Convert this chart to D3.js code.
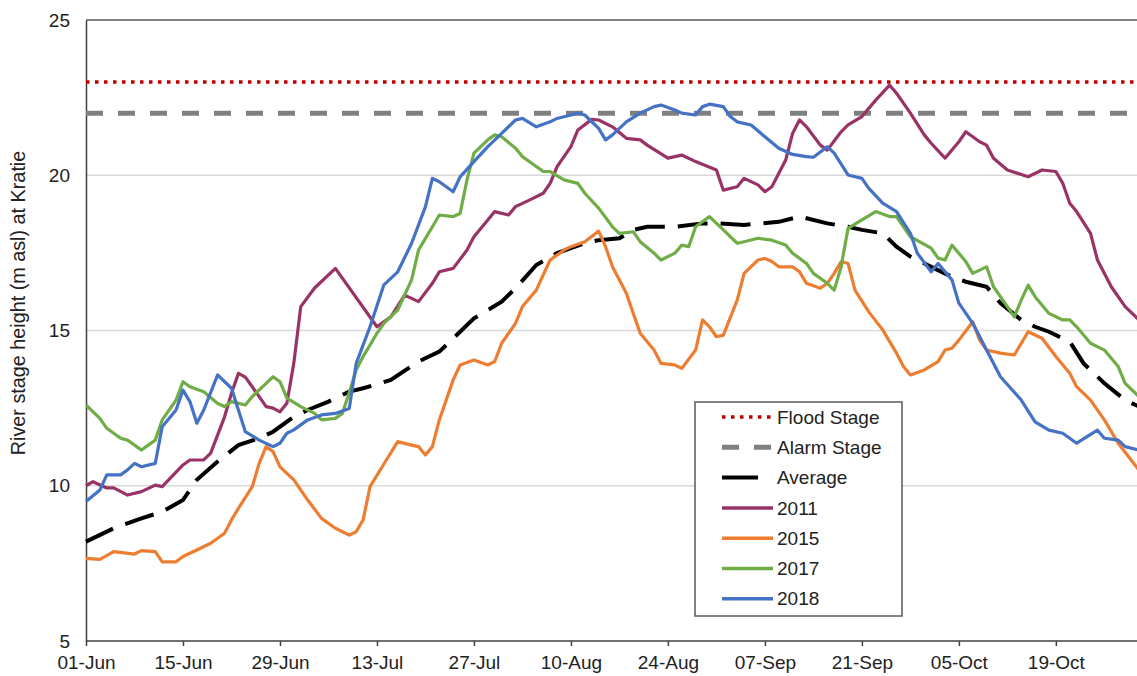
<!DOCTYPE html>
<html>
<head>
<meta charset="utf-8">
<script src="https://cdn.jsdelivr.net/npm/d3@7/dist/d3.min.js"></script>
<style>
  html, body { margin: 0; padding: 0; background: #fff; }
  svg { display: block; font-family: "Liberation Sans", Arial, sans-serif; }
</style>
</head>
<body>
<svg id="chart" width="1137" height="676"></svg>
<script>
// ---- Data (day = days since 01-Jun; values in m asl) ----
const tickDays = [0, 14, 28, 42, 56, 70, 84, 98, 112, 126, 140];
const tickLabels = ["01-Jun", "15-Jun", "29-Jun", "13-Jul", "27-Jul", "10-Aug", "24-Aug", "07-Sep", "21-Sep", "05-Oct", "19-Oct"];
const yTicks = [5, 10, 15, 20, 25];

const floodStage = 23;
const alarmStage = 22;

const avgDays = [0,4,8,11,14,16,19,22,25,27,30,32,35,38,40,42,44,48,51,54,56,60,62,65,68,70,72,74,77,79,81,85,89,91,95,100,103,107,110,112,115,117,119,122,125,127,130,132,135,137,139,142,144,147,150,152];
const avgVals = [8.2,8.63,8.95,9.16,9.54,10.19,10.78,11.31,11.53,11.74,12.22,12.44,12.71,13.03,13.14,13.27,13.41,14.0,14.32,14.96,15.39,15.93,16.36,17.11,17.49,17.65,17.81,17.91,17.97,18.24,18.34,18.34,18.45,18.45,18.4,18.5,18.67,18.45,18.34,18.24,18.13,17.7,17.38,17.05,16.73,16.57,16.41,15.88,15.34,15.12,14.96,14.64,13.94,13.3,12.76,12.55];

const days2011 = [0,1,3,4,6,8,10,11,14,15,17,18,20,21,22,23,25,26,27,28,29,30,31,33,36,42,44,46,48,50,51,53,55,56,58,59,61,62,64,66,67,68,70,71,73,74,76,78,80,81,84,86,88,91,92,94,95,97,98,99,101,102,103,104,106,107,109,110,112,114,116,117,119,121,122,124,126,127,129,130,131,133,136,138,140,141,142,143,145,146,148,150,152];
const vals2011 = [10.0,10.13,9.93,9.93,9.7,9.81,10.02,9.97,10.67,10.83,10.83,11.05,12.22,12.98,13.62,13.5,12.87,12.55,12.5,12.38,12.66,13.95,15.77,16.37,17.0,15.12,15.44,16.14,15.93,16.52,16.89,17.0,17.59,18.02,18.56,18.83,18.72,18.99,19.2,19.42,19.74,20.28,20.92,21.46,21.8,21.78,21.56,21.19,21.14,20.97,20.55,20.65,20.44,20.17,19.52,19.63,19.9,19.69,19.47,19.63,20.49,21.35,21.78,21.56,20.97,20.81,21.4,21.62,21.89,22.42,22.9,22.64,22.0,21.3,21.03,20.55,21.08,21.4,21.08,20.97,20.55,20.17,19.95,20.17,20.12,19.74,19.1,18.83,18.13,17.27,16.41,15.77,15.34];

const days2015 = [0,2,4,7,8,10,11,13,14,16,18,20,21,22,24,25,26,27,28,30,32,34,36,38,39,40,41,43,45,47,48,49,50,51,53,54,56,58,59,60,62,63,65,66,67,69,70,72,74,75,76,78,79,80,82,83,85,86,88,89,90,91,92,94,95,97,98,99,100,102,103,104,106,107,108,109,110,111,113,115,117,118,119,121,123,124,125,126,128,129,130,132,134,136,138,140,142,143,145,147,149,152];
const vals2015 = [7.66,7.63,7.88,7.8,7.91,7.88,7.55,7.55,7.72,7.93,8.15,8.47,8.9,9.27,9.97,10.72,11.26,11.1,10.61,10.19,9.54,8.95,8.63,8.41,8.52,8.9,9.97,10.7,11.42,11.31,11.26,10.99,11.26,12.12,13.41,13.89,14.05,13.89,14.0,14.59,15.23,15.77,16.3,16.79,17.27,17.59,17.7,17.86,18.2,17.7,17.05,16.2,15.55,14.91,14.37,13.94,13.89,13.78,14.37,15.34,15.12,14.8,14.85,15.98,16.84,17.27,17.32,17.22,17.05,17.05,16.89,16.52,16.36,16.52,16.84,17.22,17.16,16.3,15.6,15.02,14.27,13.84,13.57,13.73,14.0,14.37,14.43,14.69,15.28,14.69,14.37,14.27,14.21,14.96,14.75,14.16,13.62,13.19,12.76,12.12,11.37,10.5];

const days2017 = [0,2,3,5,6,8,10,11,13,14,15,17,19,20,21,23,24,26,27,28,29,31,33,34,36,37,38,39,40,42,43,45,47,48,50,51,53,54,55,56,58,59,60,62,63,65,66,67,69,71,72,74,76,77,79,80,82,83,85,86,87,88,90,92,94,95,97,99,101,102,104,105,107,108,109,110,112,114,116,117,119,122,123,124,125,127,128,130,131,133,134,135,136,137,139,141,142,143,145,146,147,149,150,152];
const vals2017 = [12.6,12.17,11.85,11.53,11.47,11.15,11.47,12.12,12.76,13.35,13.19,13.03,12.65,12.55,12.71,12.6,12.87,13.3,13.51,13.35,12.82,12.55,12.33,12.12,12.17,12.33,13.0,13.73,14.16,14.91,15.23,15.66,16.63,17.59,18.34,18.72,18.67,18.77,19.85,20.71,21.14,21.3,21.24,20.87,20.6,20.28,20.12,20.12,19.85,19.74,19.42,18.94,18.34,18.13,18.18,17.86,17.49,17.27,17.49,17.75,17.7,18.34,18.67,18.24,17.81,17.86,17.97,17.91,17.75,17.49,17.16,16.84,16.52,16.3,17.05,18.29,18.56,18.83,18.67,18.67,18.02,17.65,17.33,17.27,17.75,17.22,16.84,17.05,16.41,15.77,15.44,15.98,16.46,16.09,15.55,15.34,15.34,15.12,14.59,14.48,14.37,13.84,13.3,12.87];

const days2018 = [0,2,3,5,6,7,8,10,11,13,14,15,16,17,19,21,22,23,25,27,28,29,30,32,34,36,38,39,41,43,45,47,49,50,51,53,54,56,58,60,62,63,65,67,68,70,71,72,74,75,76,78,80,82,83,85,86,88,89,90,92,93,94,96,98,100,102,104,105,107,108,110,112,113,115,117,119,120,122,123,125,126,128,130,132,135,137,139,141,143,146,147,149,150,152];
const vals2018 = [9.49,9.86,10.35,10.35,10.51,10.72,10.61,10.72,11.9,12.44,13.08,12.71,12.01,12.44,13.57,13.14,12.44,11.74,11.47,11.26,11.37,11.69,11.8,12.12,12.28,12.33,12.49,13.94,15.12,16.47,16.89,17.81,18.99,19.9,19.79,19.47,19.95,20.44,20.92,21.35,21.78,21.83,21.56,21.72,21.83,21.94,22.0,21.94,21.51,21.14,21.3,21.72,22.0,22.21,22.26,22.1,22.0,21.94,22.21,22.29,22.21,21.89,21.72,21.62,21.24,20.87,20.67,20.6,20.58,20.92,20.71,20.01,19.9,19.58,19.1,18.83,18.13,17.49,16.89,17.16,16.63,15.88,15.23,14.37,13.51,12.76,12.06,11.79,11.69,11.37,11.79,11.53,11.47,11.26,11.15];

const seriesNames = ["2011", "2015", "2017", "2018"];
const seriesDays = [days2011, days2015, days2017, days2018];
const seriesVals = [vals2011, vals2015, vals2017, vals2018];
const seriesColors = ["#993366", "#ED7D31", "#70AD47", "#4472C4"];

(function draw() {
  const svg = d3.select("#chart");
  const W = 1137, H = 676;
  const plotLeft = 86, plotTop = 20, plotBottom = 641, plotRight = 1139;
  const fs = 19;

  const x = d3.scaleLinear().domain([0, 152]).range([plotLeft, plotRight]);
  const y = d3.scaleLinear().domain([5, 25]).range([plotBottom, plotTop]);

  svg.append("rect").attr("width", W).attr("height", H).attr("fill", "#fff");

  // gridlines
  svg.append("g").selectAll("line").data([10, 15, 20]).join("line")
    .attr("x1", plotLeft).attr("x2", W)
    .attr("y1", d => y(d)).attr("y2", d => y(d))
    .attr("stroke", "#d9d9d9").attr("stroke-width", 1.5);

  // top border
  svg.append("line").attr("x1", plotLeft).attr("x2", W).attr("y1", y(25)).attr("y2", y(25))
    .attr("stroke", "#595959").attr("stroke-width", 1.5);

  // y axis
  const yAxis = d3.axisLeft(y).tickValues(yTicks).tickSize(0).tickPadding(16).tickFormat(d3.format("d"));
  const gy = svg.append("g").attr("transform", `translate(${plotLeft},0)`).call(yAxis);
  gy.select(".domain").attr("stroke", "#404040").attr("stroke-width", 1.5);
  gy.selectAll("text").attr("font-size", fs).attr("fill", "#222").attr("font-family", "Liberation Sans, Arial, sans-serif");

  // x axis
  const xAxis = d3.axisBottom(x).tickValues(tickDays).tickSize(5).tickPadding(10)
    .tickFormat((d, i) => tickLabels[i]);
  const gx = svg.append("g").attr("transform", `translate(0,${plotBottom})`).call(xAxis);
  gx.select(".domain").attr("stroke", "#404040").attr("stroke-width", 1.5).attr("d", `M${plotLeft},0H${W}`);
  gx.selectAll(".tick line").attr("stroke", "#404040").attr("stroke-width", 1.5);
  gx.selectAll("text").attr("font-size", fs).attr("fill", "#222").attr("font-family", "Liberation Sans, Arial, sans-serif");

  // y axis title
  svg.append("text")
    .attr("transform", `translate(25,303) rotate(-90)`)
    .attr("text-anchor", "middle")
    .attr("font-size", 19.8).attr("fill", "#222")
    .text("River stage height (m asl) at Kratie");

  // reference lines
  svg.append("line").attr("x1", plotLeft).attr("x2", W).attr("y1", y(floodStage)).attr("y2", y(floodStage))
    .attr("stroke", "#c00000").attr("stroke-width", 3.5).attr("stroke-dasharray", "3.5,5.5");
  svg.append("line").attr("x1", plotLeft).attr("x2", W).attr("y1", y(alarmStage)).attr("y2", y(alarmStage))
    .attr("stroke", "#808080").attr("stroke-width", 5).attr("stroke-dasharray", "17,15");

  const line = d3.line().x(d => x(d[0])).y(d => y(d[1]));

  // average
  svg.append("path")
    .datum(avgDays.map((d, i) => [d, avgVals[i]]))
    .attr("d", line).attr("fill", "none")
    .attr("stroke", "#000").attr("stroke-width", 4).attr("stroke-dasharray", "30,13");

  // series
  seriesNames.forEach((name, k) => {
    svg.append("path")
      .datum(seriesDays[k].map((d, i) => [d, seriesVals[k][i]]))
      .attr("d", line).attr("fill", "none")
      .attr("stroke", seriesColors[k]).attr("stroke-width", 3.2)
      .attr("stroke-linejoin", "round");
  });

  // legend
  const lg = svg.append("g");
  lg.append("rect").attr("x", 695).attr("y", 402).attr("width", 207).attr("height", 214)
    .attr("fill", "#fff").attr("stroke", "#595959").attr("stroke-width", 1.5);
  const legendItems = [
    { label: "Flood Stage", color: "#c00000", width: 3.5, dash: "3.5,5.5", x2: 773 },
    { label: "Alarm Stage", color: "#808080", width: 5, dash: "17,15", x2: 773 },
    { label: "Average", color: "#000", width: 4, dash: null, x2: 758 },
    ...seriesNames.map((n, k) => ({ label: n, color: seriesColors[k], width: 3.5, dash: null, x2: 773 }))
  ];
  const legendY0 = 417, legendStep = 30.3;
  legendItems.forEach((it, i) => {
    const yy = legendY0 + i * legendStep;
    const l = lg.append("line").attr("x1", 722).attr("x2", it.x2).attr("y1", yy).attr("y2", yy)
      .attr("stroke", it.color).attr("stroke-width", it.width);
    if (it.dash) l.attr("stroke-dasharray", it.dash);
    lg.append("text").attr("x", 777).attr("y", yy).attr("dy", "0.35em")
      .attr("font-size", fs).attr("fill", "#222").text(it.label);
  });
})();
</script>
</body>
</html>
